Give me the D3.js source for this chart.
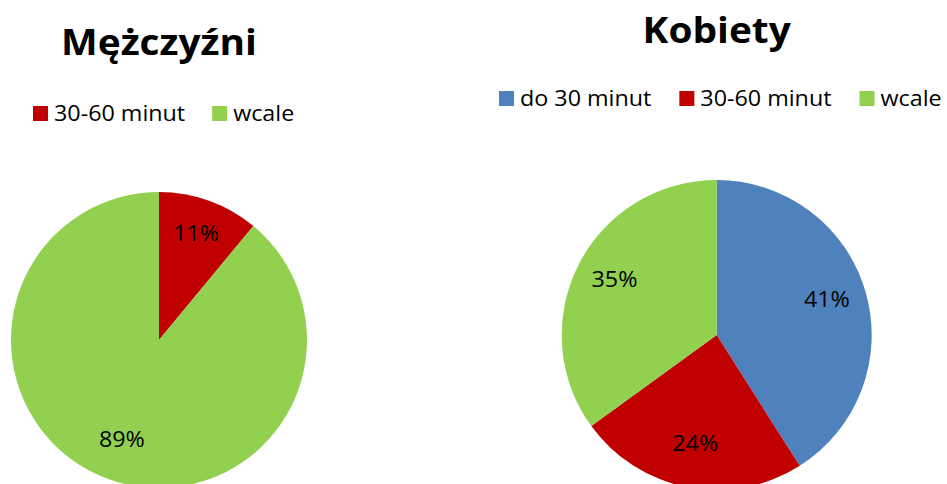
<!DOCTYPE html>
<html><head><meta charset="utf-8">
<script src="https://cdn.jsdelivr.net/npm/d3@7"></script>
<style>body{margin:0;background:#fff}svg{display:block}</style>
</head><body>
<svg id="c" width="947" height="484"></svg>
<script>
const menTitle = "Mężczyźni";
const menCategories = ["30-60 minut", "wcale"];
const menValues = [11, 89];
const womenTitle = "Kobiety";
const womenCategories = ["do 30 minut", "30-60 minut", "wcale"];
const womenValues = [41, 24, 35];
const colorMap = {"do 30 minut": "#4F81BD", "30-60 minut": "#C00000", "wcale": "#92D050"};

const FONT = "'Open Sans', Lato, sans-serif";
const SX = 1.11; // horizontal stretch of text seen in the reference
const svg = d3.select("#c");

function addText(parent, x, y, str, size, weight, anchor, dy) {
  const g = parent.append("g").attr("transform", `translate(${x},${y}) scale(${SX},1)`);
  const t = g.append("text").attr("x", 0).attr("y", 0)
    .attr("text-anchor", anchor || "start").attr("font-family", FONT)
    .attr("font-weight", weight || "normal").attr("font-size", size).attr("fill", "#000")
    .attr("dy", dy || 0).text(str);
  return t.node().getComputedTextLength() * SX;
}

function drawPie(cfg) {
  const g = svg.append("g");
  addText(g, cfg.titleX, cfg.titleY, cfg.title, 35, "bold", "middle");

  // legend
  let x = cfg.legendX;
  cfg.cats.forEach(c => {
    g.append("rect").attr("x", x).attr("y", cfg.legendY - 15).attr("width", 15).attr("height", 15)
      .attr("fill", colorMap[c]);
    const w = addText(g, x + 21, cfg.legendY, c, 21);
    x += 21 + w + cfg.legendGap;
  });

  const pie = d3.pie().sort(null).value(d => d.v);
  const arcs = pie(cfg.cats.map((c, i) => ({c, v: cfg.vals[i]})));
  const arc = d3.arc().innerRadius(0).outerRadius(cfg.r);
  const labelArc = d3.arc().innerRadius(cfg.r * 0.74).outerRadius(cfg.r * 0.74);
  const pg = g.append("g").attr("transform", `translate(${cfg.cx},${cfg.cy})`);
  pg.selectAll("path").data(arcs).join("path")
    .attr("d", arc).attr("fill", d => colorMap[d.data.c]);
  arcs.forEach(d => {
    const [lx, ly] = labelArc.centroid(d);
    addText(pg, lx, ly, d.data.v + "%", 21, "normal", "middle", "0.18em");
  });
}

drawPie({title: menTitle, cats: menCategories, vals: menValues,
  titleX: 159, titleY: 55, legendX: 33, legendY: 121, legendGap: 27,
  cx: 159, cy: 340, r: 148});
drawPie({title: womenTitle, cats: womenCategories, vals: womenValues,
  titleX: 716.7, titleY: 43, legendX: 499, legendY: 106, legendGap: 28,
  cx: 716.7, cy: 335, r: 155});
</script>
</body></html>
